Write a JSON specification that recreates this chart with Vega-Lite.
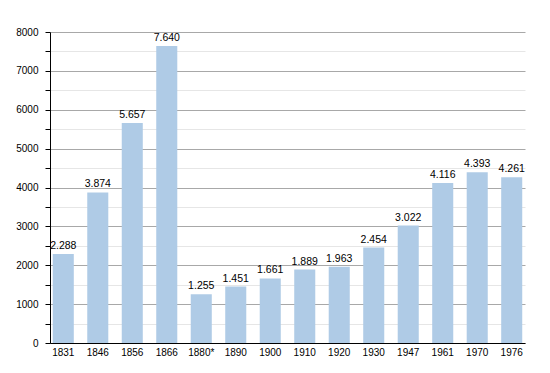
{
  "$schema": "https://vega.github.io/schema/vega-lite/v6.json",
  "width": 475,
  "height": 311,
  "autosize": {"type": "none"},
  "padding": {"left": 50, "top": 32, "right": 25, "bottom": 30},
  "background": "white",
  "config": {
    "locale": {"number": {"decimal": ",", "thousands": ".", "grouping": [3], "currency": ["", " €"]}},
    "view": {"stroke": null},
    "font": "Liberation Sans"
  },
  "data": {
    "values": [
      {"year": "1831", "pop": 2288},
      {"year": "1846", "pop": 3874},
      {"year": "1856", "pop": 5657},
      {"year": "1866", "pop": 7640},
      {"year": "1880*", "pop": 1255},
      {"year": "1890", "pop": 1451},
      {"year": "1900", "pop": 1661},
      {"year": "1910", "pop": 1889},
      {"year": "1920", "pop": 1963},
      {"year": "1930", "pop": 2454},
      {"year": "1947", "pop": 3022},
      {"year": "1961", "pop": 4116},
      {"year": "1970", "pop": 4393},
      {"year": "1976", "pop": 4261}
    ]
  },
  "encoding": {
    "x": {
      "field": "year", "type": "nominal", "sort": null,
      "scale": {"paddingInner": 0.39, "paddingOuter": 0.08},
      "axis": {
        "title": null, "labelAngle": 0, "ticks": false, "labelPadding": 4,
        "labelFont": "Liberation Sans", "labelFontSize": 10, "labelColor": "#000",
        "domainColor": "#000", "domainWidth": 1, "grid": false
      }
    },
    "y": {
      "field": "pop", "type": "quantitative",
      "scale": {"domain": [0, 8000], "nice": false},
      "axis": {
        "title": null,
        "values": [0,500,1000,1500,2000,2500,3000,3500,4000,4500,5000,5500,6000,6500,7000,7500,8000],
        "labelExpr": "datum.value % 1000 === 0 ? datum.value : ''",
        "format": "d",
        "labelFont": "Liberation Sans", "labelFontSize": 10, "labelColor": "#000",
        "labelPadding": 7, "tickSize": 5, "tickColor": "#000",
        "domainColor": "#000", "domainWidth": 1,
        "grid": true,
        "gridColor": {"condition": {"test": "datum.value % 1000 === 0", "value": "#a8a8a8"}, "value": "#e6e6e6"}
      }
    }
  },
  "layer": [
    {"mark": {"type": "bar", "color": "#afcbe6"}},
    {
      "mark": {"type": "text", "baseline": "bottom", "dy": -3, "fontSize": 10.5, "font": "Liberation Sans", "color": "#000"},
      "encoding": {"text": {"field": "pop", "type": "quantitative", "format": ",d"}}
    }
  ]
}
